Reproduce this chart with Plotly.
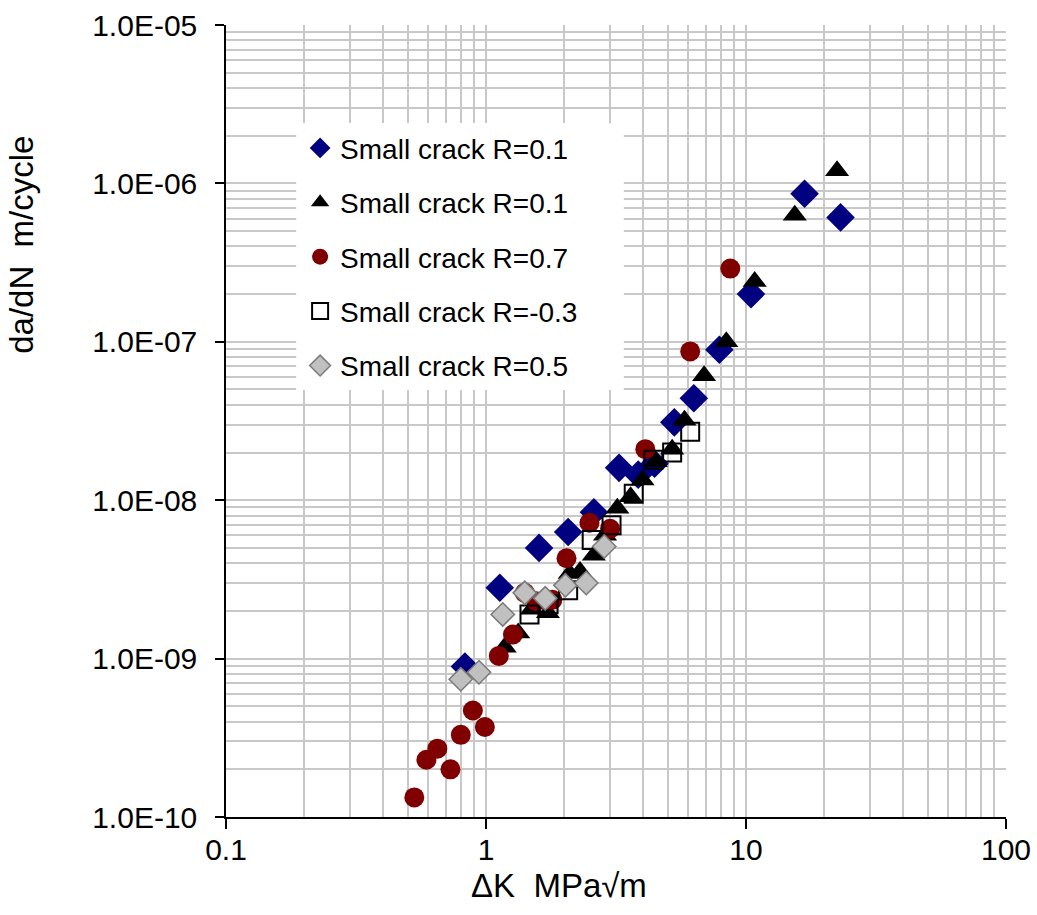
import plotly.graph_objects as go

# ---- data ----
blue_x = [0.83, 1.13, 1.6, 2.07, 2.6, 3.25, 3.85, 4.45, 5.3, 6.3, 7.9, 10.45, 16.8, 23.1]
blue_y = [8.9e-10, 2.8e-9, 5.0e-9, 6.3e-9, 8.4e-9, 1.6e-8, 1.45e-8, 1.7e-8, 3.1e-8, 4.4e-8, 8.9e-8, 2.0e-7, 8.6e-7, 6.1e-7]

tri_x = [1.18, 1.33, 1.5, 1.73, 2.1, 2.3, 2.6, 2.87, 3.2, 3.6, 4.0, 4.5, 5.2, 5.8, 6.9, 8.4, 10.8, 15.4, 22.4]
tri_y = [1.18e-9, 1.45e-9, 2.05e-9, 1.95e-9, 3.45e-9, 3.55e-9, 4.5e-9, 6.0e-9, 8.9e-9, 1.05e-8, 1.34e-8, 1.75e-8, 2.1e-8, 3.2e-8, 6.1e-8, 1.0e-7, 2.4e-7, 6.3e-7, 1.2e-6]

red_x = [0.53, 0.59, 0.65, 0.73, 0.80, 0.89, 0.99, 1.12, 1.27, 1.41, 1.56, 1.8, 2.04, 2.5, 3.0, 4.1, 6.1, 8.7]
red_y = [1.33e-10, 2.3e-10, 2.7e-10, 2.0e-10, 3.3e-10, 4.7e-10, 3.7e-10, 1.04e-9, 1.42e-9, 2.6e-9, 2.3e-9, 2.35e-9, 4.3e-9, 7.2e-9, 6.6e-9, 2.1e-8, 8.7e-8, 2.9e-7]

sq_x = [1.47, 1.74, 2.07, 2.55, 3.04, 3.7, 4.4, 5.2, 6.1]
sq_y = [1.9e-9, 2.2e-9, 2.7e-9, 5.6e-9, 6.95e-9, 1.1e-8, 1.8e-8, 2.0e-8, 2.7e-8]

gray_x = [0.80, 0.94, 1.16, 1.41, 1.69, 2.02, 2.43, 2.85]
gray_y = [7.4e-10, 8.2e-10, 1.9e-9, 2.6e-9, 2.4e-9, 2.9e-9, 3.0e-9, 5.1e-9]

series_names = ["Small crack R=0.1", "Small crack R=0.1", "Small crack R=0.7",
                "Small crack R=-0.3", "Small crack R=0.5"]

x_ticks = [0.1, 1, 10, 100]
x_ticktext = ["0.1", "1", "10", "100"]
y_ticks = [1e-10, 1e-9, 1e-8, 1e-7, 1e-6, 1e-5]
y_ticktext = ["1.0E-10", "1.0E-09", "1.0E-08", "1.0E-07", "1.0E-06", "1.0E-05"]

x_minor = [m * 10.0 ** e for e in (-1, 0, 1) for m in range(2, 10)]
y_minor = [m * 10.0 ** e for e in (-10, -9, -8, -7, -6) for m in range(2, 10)]

FONT = "Liberation Sans, Arial, sans-serif"
GRID = "#c8c8c8"

fig = go.Figure()
fig.add_trace(go.Scatter(x=blue_x, y=blue_y, mode="markers", name=series_names[0], legendgroup="a",
                         marker=dict(symbol="diamond", size=22, color="#000080", line=dict(width=0))))
fig.add_trace(go.Scatter(x=tri_x, y=tri_y, mode="markers", name=series_names[1], legendgroup="b",
                         marker=dict(symbol="triangle-up", size=21, color="#000000", line=dict(width=0))))
fig.add_trace(go.Scatter(x=red_x, y=red_y, mode="markers", name=series_names[2], legendgroup="c",
                         marker=dict(symbol="circle", size=20, color="#800000", line=dict(width=0))))
fig.add_trace(go.Scatter(x=sq_x, y=sq_y, mode="markers", name=series_names[3], legendgroup="d",
                         marker=dict(symbol="square-open", size=18, color="#000000", line=dict(width=2, color="#000000"))))
fig.add_trace(go.Scatter(x=gray_x, y=gray_y, mode="markers", name=series_names[4], legendgroup="e",
                         marker=dict(symbol="diamond", size=18, color="#c0c0c0", line=dict(width=1.5, color="#7a7a7a"))))

fig.update_xaxes(type="log", range=[-1, 2], tickvals=x_ticks, ticktext=x_ticktext, automargin=False,
                 showline=True, linecolor="black", linewidth=1.5, ticks="outside", ticklen=10,
                 tickcolor="black", tickwidth=1.5, showgrid=True, gridcolor=GRID, gridwidth=1.5,
                 zeroline=False, tickfont=dict(size=30, color="black", family=FONT),
                 ticklabelstandoff=-5,
                 minor=dict(tickvals=x_minor, showgrid=True, gridcolor=GRID, gridwidth=1.5, ticks=""))
fig.update_yaxes(type="log", range=[-10, -5], tickvals=y_ticks, ticktext=y_ticktext, automargin=False,
                 showline=True, linecolor="black", linewidth=1.5, ticks="outside", ticklen=9,
                 tickcolor="black", tickwidth=1.5, showgrid=True, gridcolor=GRID, gridwidth=1.5,
                 zeroline=False, tickfont=dict(size=30, color="black", family=FONT),
                 ticklabelstandoff=12,
                 minor=dict(tickvals=y_minor, showgrid=True, gridcolor=GRID, gridwidth=1.5, ticks=""))

# white panel behind the legend (covers the grid like the reference's legend box)
fig.add_shape(type="rect", xref="paper", yref="paper", x0=0.09, x1=0.51, y0=0.539, y1=0.876,
              fillcolor="white", line=dict(width=0), layer="above")

fig.add_annotation(text="da/dN  m/cycle", xref="paper", yref="paper", x=-0.262, y=0.722,
                   textangle=-90, showarrow=False, xanchor="center", yanchor="middle",
                   font=dict(size=33, color="black", family=FONT))
fig.add_annotation(text="ΔK  MPa√m", xref="paper", yref="paper", x=0.427, y=-0.061,
                   showarrow=False, xanchor="center", yanchor="top",
                   font=dict(size=33, color="black", family=FONT))

fig.update_layout(
    width=1037, height=915,
    margin=dict(l=226, r=31, t=25, b=98),
    paper_bgcolor="white", plot_bgcolor="white",
    font=dict(family=FONT, color="black"),
    showlegend=True,
    legend=dict(x=0.095, y=0.876, xanchor="left", yanchor="top", bgcolor="white",
                borderwidth=0, font=dict(size=28, color="black", family=FONT),
                itemsizing="trace", tracegroupgap=15, traceorder="grouped"),
)

fig.write_html("out.html")
